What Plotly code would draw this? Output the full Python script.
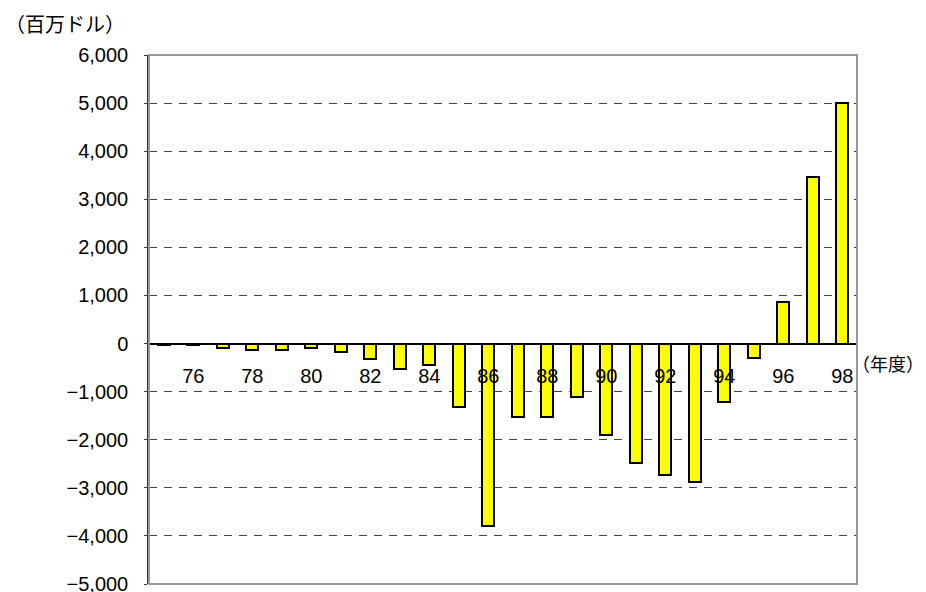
import plotly.graph_objects as go

years = list(range(1975, 1999))
values = [-25, -40, -85, -125, -130, -85, -180, -330, -520, -440,
          -1310, -3800, -1530, -1530, -1110, -1895, -2475, -2730, -2880, -1225,
          -300, 860, 3465, 5000]
label_years = list(range(1976, 1999, 2))
label_text = [str(y % 100) for y in label_years]
y_ticks = list(range(-5000, 6001, 1000))
y_unit = "（百万ドル）"
x_unit = "（年度）"

FONT = "Liberation Sans, Arial, Noto Sans CJK JP, sans-serif"
JP = "Noto Sans CJK JP, sans-serif"
YMIN, YMAX = -5000, 6000
XMIN, XMAX = 1974.5, 1998.5
PW, PH = 708, 529

fig = go.Figure()
fig.add_trace(go.Bar(
    x=years, y=values, width=0.42,
    marker=dict(color="#FFFF00", line=dict(color="#000000", width=2)),
    xaxis="x", yaxis="y", showlegend=False,
))

zero_pos = (0 - YMIN) / (YMAX - YMIN)

fig.update_layout(
    width=926, height=592,
    margin=dict(l=149, r=69, t=55, b=8, autoexpand=False),
    paper_bgcolor="white", plot_bgcolor="white",
    font=dict(family=FONT, size=20, color="#000"),
    bargap=0,
    xaxis=dict(
        range=[XMIN, XMAX], anchor="free", position=zero_pos,
        tickmode="array", tickvals=label_years, ticktext=label_text,
        ticks="", showgrid=False, zeroline=False, automargin=False,
        showline=True, linecolor="#000", linewidth=1.5,
        ticklabelstandoff=15, ticklabeloverflow="allow",
        tickfont=dict(size=20),
    ),
    xaxis2=dict(
        range=[XMIN, XMAX], overlaying="x", anchor="free", position=zero_pos,
        side="bottom", automargin=False,
        tickmode="array", tickvals=[y - 0.5 for y in years] + [XMAX],
        ticks="inside", ticklen=7, tickcolor="#333", tickwidth=1.2,
        showticklabels=False, showgrid=False, zeroline=False, showline=False,
    ),
    yaxis=dict(
        range=[YMIN, YMAX], tickmode="array", tickvals=y_ticks,
        tickformat=",d", automargin=False,
        ticks="outside", ticklen=3, tickcolor="#333",
        showgrid=True, gridcolor="#444", gridwidth=1, griddash="8px,7px",
        zeroline=False, showline=True, linecolor="#333", linewidth=1.5,
        ticklabelstandoff=12, ticklabeloverflow="allow",
        tickfont=dict(size=20),
    ),
    shapes=[dict(type="rect", xref="paper", yref="paper", x0=0, x1=1, y0=0, y1=1,
                 line=dict(color="#999", width=2), layer="above")],
    annotations=[
        dict(text=y_unit, xref="paper", yref="paper", x=-146/PW, y=1 + 32/PH,
             xanchor="left", yanchor="middle", showarrow=False,
             font=dict(size=20, family=JP)),
        dict(text=x_unit, xref="paper", yref="y", x=(926 - 149) / PW, y=-400,
             xanchor="right", yanchor="middle", showarrow=False,
             font=dict(size=18, family=JP)),
    ],
)

fig.write_html("out.html")
